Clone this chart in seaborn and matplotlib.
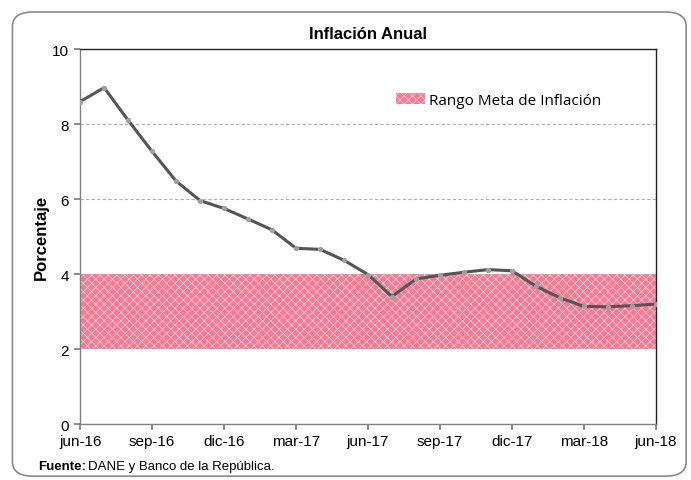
import matplotlib
matplotlib.use("Agg")
import matplotlib.pyplot as plt
import seaborn as sns
import pandas as pd
import numpy as np
from matplotlib.patches import FancyBboxPatch, Patch

months = ["jun-16","jul-16","ago-16","sep-16","oct-16","nov-16","dic-16","ene-17","feb-17","mar-17",
          "abr-17","may-17","jun-17","jul-17","ago-17","sep-17","oct-17","nov-17","dic-17","ene-18",
          "feb-18","mar-18","abr-18","may-18","jun-18"]
inflation = [8.60, 8.97, 8.10, 7.27, 6.48, 5.96, 5.75, 5.47, 5.18, 4.69,
             4.66, 4.37, 3.99, 3.40, 3.87, 3.97, 4.05, 4.12, 4.09, 3.68,
             3.37, 3.14, 3.13, 3.16, 3.20]
target_low = 2.0
target_high = 4.0
tick_labels = ["jun-16","sep-16","dic-16","mar-17","jun-17","sep-17","dic-17","mar-18","jun-18"]

df = pd.DataFrame({"idx": np.arange(len(months)), "mes": months, "inflacion": inflation})

sns.set_theme(style="white")
plt.rcParams['font.family'] = ['Liberation Sans', 'DejaVu Sans']
plt.rcParams['hatch.linewidth'] = 0.6
plt.rcParams['text.color'] = 'black'
plt.rcParams['axes.labelcolor'] = 'black'
plt.rcParams['xtick.color'] = 'black'
plt.rcParams['ytick.color'] = 'black'

fig = plt.figure(figsize=(6.91, 4.81), dpi=100)
# outer rounded frame
frame = FancyBboxPatch((0.018, 0.008), 0.975, 0.965, boxstyle="round,pad=0,rounding_size=0.03",
                       transform=fig.transFigure, facecolor="white", edgecolor="#8a8a8a",
                       linewidth=1.2, zorder=-5)
fig.patches.append(frame)

ax = fig.add_axes([0.116, 0.116, 0.833, 0.78])
ax.set_zorder(2)
ax.set_facecolor("none")

ax.axhspan(target_low, target_high, facecolor="#f67a93", edgecolor="#ffc4d0",
           hatch="xxxx", linewidth=0, zorder=1)

sns.lineplot(data=df, x="idx", y="inflacion", ax=ax, color="#555555", linewidth=2.2,
             marker="o", markersize=3.0, markerfacecolor="#a0a0a0", markeredgecolor="#a0a0a0",
             zorder=3)

ax.set_xlim(0, 24)
ax.set_ylim(0, 10)
ax.set_yticks([0, 2, 4, 6, 8, 10])
ax.set_xticks(np.arange(0, 25, 3))
ax.set_xticklabels(tick_labels, fontsize=11)
ax.tick_params(axis="y", labelsize=11, length=4, direction="out", color="#808080", left=True, pad=4)
ax.tick_params(axis="x", length=4, direction="out", color="#808080", bottom=True, pad=3)
for y in [4, 6, 8]:
    ax.axhline(y, color="#b0b0b0", linestyle=(0, (3, 2)), linewidth=0.8, zorder=2)

for s in ["left", "bottom"]:
    ax.spines[s].set_color("#808080")
    ax.spines[s].set_linewidth(1.0)
for s in ["top", "right"]:
    ax.spines[s].set_color("#222222")
    ax.spines[s].set_linewidth(1.0)

ax.set_xlabel("")
ax.set_ylabel("Porcentaje", fontsize=12, fontweight="bold", labelpad=2)
ax.set_title("Inflación Anual", fontsize=12, fontweight="bold", pad=8)

leg_handle = Patch(facecolor="#f67a93", edgecolor="#ffc4d0", hatch="xxxx", linewidth=0)
leg = ax.legend([leg_handle], ["Rango Meta de Inflación"], loc="upper right",
                bbox_to_anchor=(0.93, 0.92), frameon=False, handlelength=1.9, handleheight=0.7,
                handletextpad=0.3, prop={"family": "Open Sans", "size": 11})

fig.text(0.055, 0.022, "Fuente:", fontsize=9.5, fontweight="bold")
fig.text(0.128, 0.022, "DANE y Banco de la República.", fontsize=9.5)

fig.savefig("out.png", dpi=100)
